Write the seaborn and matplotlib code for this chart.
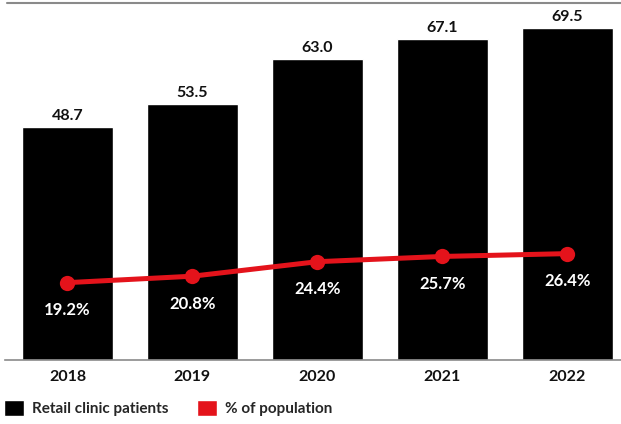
import matplotlib
matplotlib.use("Agg")
import matplotlib.pyplot as plt
import seaborn as sns
import pandas as pd
from matplotlib.patches import Patch

# ====================================
# DADOS
# ====================================

anos = ["2018", "2019", "2020", "2021", "2022"]
pacientes = [48.7, 53.5, 63.0, 67.1, 69.5]
pct_populacao = [19.2, 20.8, 24.4, 25.7, 26.4]

df = pd.DataFrame({
    "Ano": anos,
    "Pacientes": pacientes,
    "Pct": pct_populacao
})

VERMELHO = "#e4131b"
CINZA = "#8a8a8a"

sns.set_style("white")
plt.rcParams["font.family"] = ["Lato", "DejaVu Sans"]

# ====================================
# FIGURA
# ====================================

fig = plt.figure(figsize=(6.21, 4.24), dpi=100)
ax = fig.add_axes([5 / 621, 64 / 424, 616 / 621, 357 / 424])

sns.barplot(
    data=df,
    x="Ano",
    y="Pacientes",
    color="black",
    width=0.73,
    saturation=1,
    ax=ax
)

ax.set_ylim(0, 74.7)
ax.set_xlim(-0.5, 4.43)

for i, v in enumerate(pacientes):
    ax.text(i, v + 0.8, f"{v:.1f}", ha="center", va="bottom",
            fontsize=11.5, fontweight="bold", color="#111111")

# linha de % da população
ax2 = ax.twinx()
sns.lineplot(
    x=list(range(len(anos))),
    y=pct_populacao,
    color=VERMELHO,
    linewidth=3.6,
    marker="o",
    markersize=11,
    markeredgewidth=0,
    ax=ax2
)
ax2.set_ylim(0, 88.6)

for i, v in enumerate(pct_populacao):
    ax2.text(i, v - 6.9, f"{v:.1f}%", ha="center", va="center",
             fontsize=12, fontweight="bold", color="white")

# ====================================
# EIXOS
# ====================================

for a in (ax, ax2):
    a.set_yticks([])
    a.set_ylabel("")
    for s in ["left", "right", "top", "bottom"]:
        a.spines[s].set_visible(False)

ax.spines["bottom"].set_visible(True)
ax.spines["bottom"].set_color(CINZA)
ax.spines["bottom"].set_linewidth(1.2)
ax.axhline(74.7, xmin=2 / 616, color=CINZA, linewidth=1.5, clip_on=False)

ax.set_xlabel("")
ax.tick_params(axis="x", length=0, pad=7)
for lbl in ax.get_xticklabels():
    lbl.set_fontsize(11.5)
    lbl.set_fontweight("bold")
    lbl.set_color("#111111")

# ====================================
# LEGENDA
# ====================================

handles = [
    Patch(facecolor="black", label="Retail clinic patients"),
    Patch(facecolor=VERMELHO, label="% of population"),
]
fig.legend(
    handles=handles,
    loc="center left",
    bbox_to_anchor=(4 / 621, 16 / 424),
    ncol=2,
    frameon=False,
    borderpad=0,
    borderaxespad=0,
    handlelength=1.3,
    handleheight=1.2,
    handletextpad=0.5,
    columnspacing=1.9,
    prop={"weight": "bold", "size": 11}
)

fig.savefig("out.png", dpi=100)
